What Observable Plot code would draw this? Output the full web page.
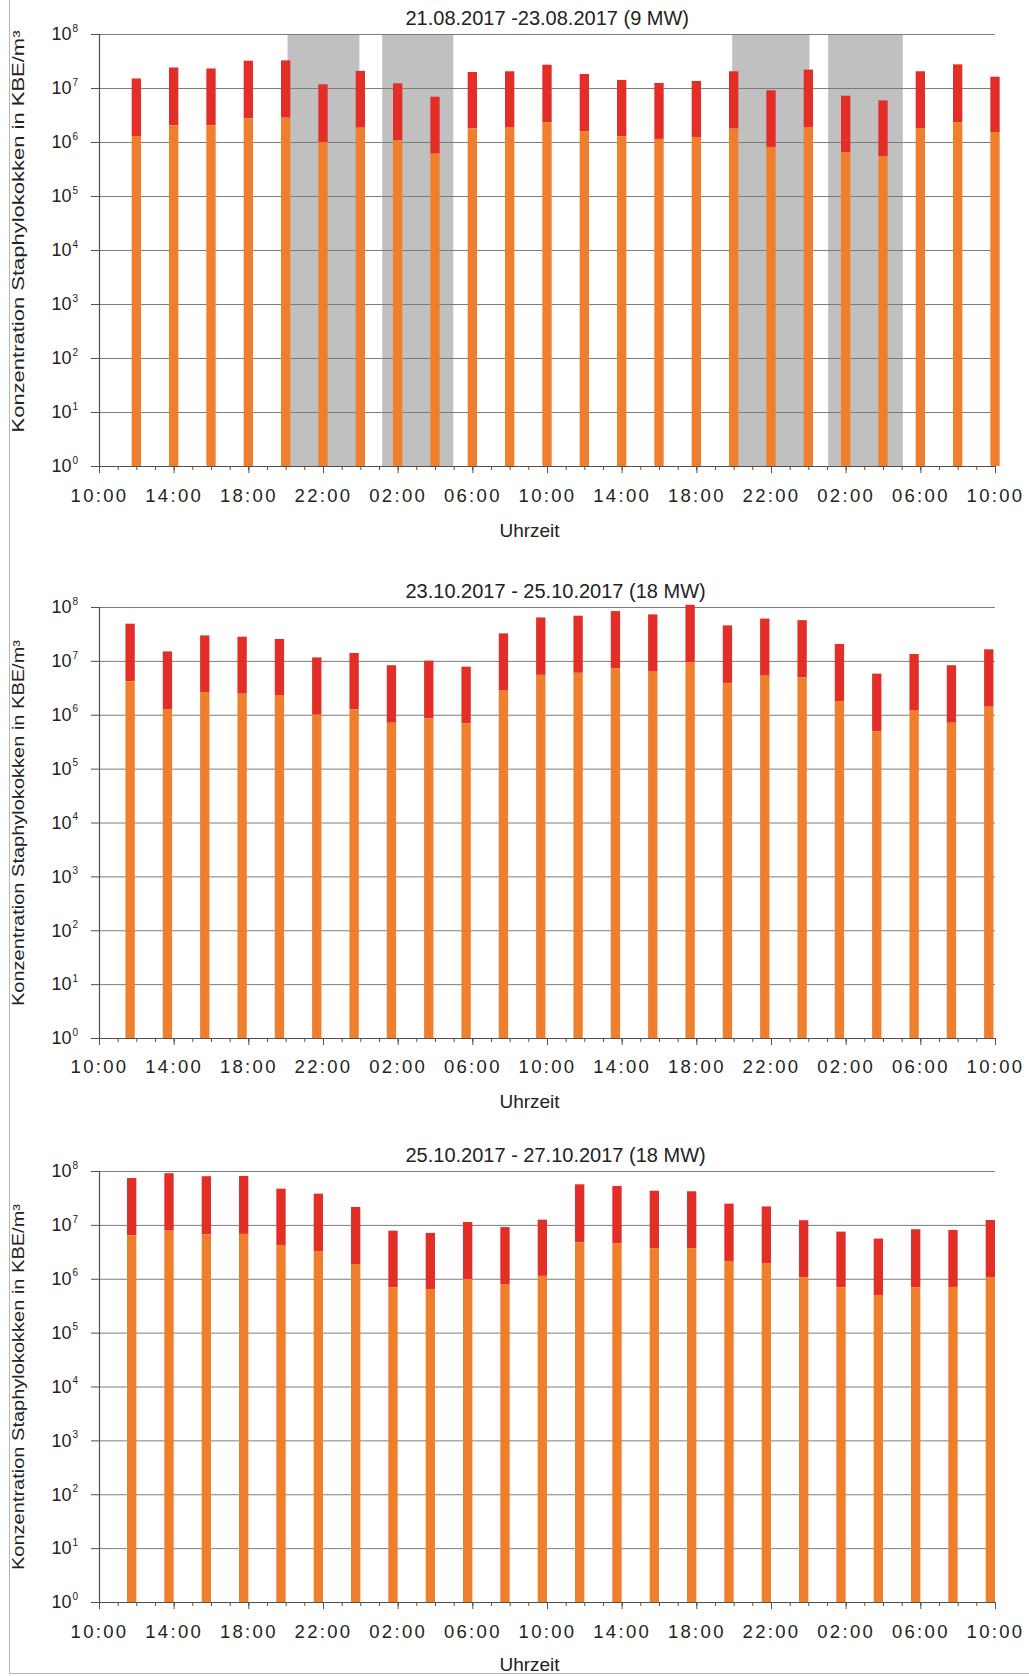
<!DOCTYPE html>
<html>
<head>
<meta charset="utf-8">
<script src="https://cdn.jsdelivr.net/npm/d3@7"></script>
<script src="https://cdn.jsdelivr.net/npm/@observablehq/plot@0.6"></script>
<style>
  html, body { margin: 0; padding: 0; background: #fff; overflow: hidden; }
  #page { position: relative; width: 1029px; height: 1676px; overflow: hidden;
          font-family: "Liberation Sans", Arial, sans-serif; }
  #frame { position: absolute; left: 9px; top: 0; width: 1020px; height: 1674px;
           border-left: 1px solid #b5b5b5; border-bottom: 1px solid #b5b5b5; box-sizing: border-box; }
  .chart { position: absolute; left: 0; }
</style>
</head>
<body>
<div id="page"><div id="frame"></div></div>
<script>
// ---------- data ----------
const titles = [
  "21.08.2017 -23.08.2017 (9 MW)",
  "23.10.2017 - 25.10.2017 (18 MW)",
  "25.10.2017 - 27.10.2017 (18 MW)"
];
const yLabel = "Konzentration Staphylokokken in KBE/m³";
const xLabel = "Uhrzeit";
const xTickLabels = ["10:00","14:00","18:00","22:00","02:00","06:00","10:00","14:00","18:00","22:00","02:00","06:00","10:00"];
const xMajorHours = [0,4,8,12,16,20,24,28,32,36,40,44,48];
const xMinorHours = [0,1,2,3,4,5,6,7,8,9,10,11,12,13,14,15,16,17,18,19,20,21,22,23,24,25,26,27,28,29,30,31,32,33,34,35,36,37,38,39,40,41,42,43,44,45,46,47,48];
const yExponents = [0,1,2,3,4,5,6,7,8];
const yBase = "10";

// sampling times
const times1 = ["12:00","14:00","16:00","18:00","20:00","22:00","00:00","02:00","04:00","06:00","08:00","10:00",
                "12:00","14:00","16:00","18:00","20:00","22:00","00:00","02:00","04:00","06:00","08:00","10:00"];
const times2 = ["11:40","13:40","15:40","17:40","19:40","21:40","23:40","01:40","03:40","05:40","07:40","09:40",
                "11:40","13:40","15:40","17:40","19:40","21:40","23:40","01:40","03:40","05:40","07:40","09:40"];
const times3 = ["11:45","13:45","15:45","17:45","19:45","21:45","23:45","01:45","03:45","05:45","07:45","09:45",
                "11:45","13:45","15:45","17:45","19:45","21:45","23:45","01:45","03:45","05:45","07:45","09:45"];

// lower (orange) part and upper total (red top), KBE/m³
const lower1 = [1.29e6,2.04e6,2.04e6,2.74e6,2.82e6,1.0e6,1.84e6,1.07e6,6.1e5,1.79e6,1.84e6,2.34e6,
                1.58e6,1.27e6,1.14e6,1.24e6,1.77e6,8.1e5,1.9e6,6.4e5,5.4e5,1.81e6,2.34e6,1.53e6];
const upper1 = [1.5e7,2.4e7,2.3e7,3.2e7,3.25e7,1.17e7,2.07e7,1.22e7,6.9e6,1.98e7,2.04e7,2.7e7,
                1.82e7,1.41e7,1.24e7,1.35e7,2.04e7,9.1e6,2.19e7,7.2e6,5.9e6,2.04e7,2.74e7,1.62e7];

const lower2 = [4.17e6,1.28e6,2.57e6,2.46e6,2.26e6,1.0e6,1.26e6,7.1e5,8.6e5,6.9e5,2.8e6,5.5e6,
                6.0e6,7.3e6,6.3e6,9.5e6,3.9e6,5.3e6,4.9e6,1.8e6,4.9e5,1.19e6,7.1e5,1.41e6];
const upper2 = [4.9e7,1.5e7,2.97e7,2.81e7,2.55e7,1.16e7,1.4e7,8.3e6,1.01e7,7.8e6,3.24e7,6.4e7,
                6.9e7,8.4e7,7.3e7,1.1e8,4.56e7,6.1e7,5.7e7,2.06e7,5.8e6,1.34e7,8.3e6,1.64e7];

const lower3 = [6.4e6,7.8e6,6.7e6,6.8e6,4.24e6,3.28e6,1.88e6,6.95e5,6.3e5,9.9e5,8.0e5,1.13e6,
                4.75e6,4.5e6,3.7e6,3.7e6,2.14e6,1.91e6,1.07e6,6.9e5,5.0e5,6.9e5,7.05e5,1.08e6];
const upper3 = [7.4e7,9.1e7,8.0e7,8.1e7,4.7e7,3.8e7,2.15e7,7.8e6,7.1e6,1.13e7,9.1e6,1.25e7,
                5.66e7,5.27e7,4.3e7,4.2e7,2.48e7,2.2e7,1.22e7,7.5e6,5.57e6,8.3e6,8.05e6,1.23e7];

// night periods (grey), hours after 10:00 on day 1 -- chart 1 only
const nightStart1 = [10.1, 15.17, 33.92, 39.06];
const nightEnd1   = [13.95, 18.98, 38.06, 43.06];

// ---------- styling ----------
const RED = "#e32d27";
const ORANGE = "#ef7f2c";
const GREY = "#c0c0c0";
const GRID = "#7c7c7c";
const AXIS = "#505050";
const TEXT = "#222222";
const FONT = "\"Liberation Sans\", Arial, sans-serif";

function toHours(times) {
  let day = 0, prev = -Infinity;
  return times.map(s => {
    const [h, m] = s.split(":").map(Number);
    let v = h + m / 60 - 10 + day * 24;
    while (v <= prev) { day += 1; v += 24; }
    prev = v;
    return v;
  });
}

function makeChart(cfg) {
  const hrs = toHours(cfg.times);
  const data = hrs.map((t, i) => ({t, lo: cfg.lower[i], hi: cfg.upper[i]}));
  const bands = cfg.nightStart ? cfg.nightStart.map((s, i) => ({s, e: cfg.nightEnd[i]})) : [];
  const halfW = 0.25;
  const marginTop = 34, marginBottom = 76;
  const svg = Plot.plot({
    width: 1029,
    height: marginTop + cfg.plotH + marginBottom,
    marginLeft: 99, marginRight: 34, marginTop, marginBottom,
    style: {fontFamily: FONT, color: TEXT, background: "transparent", overflow: "visible"},
    x: {type: "linear", domain: [0, 48], axis: null, label: null},
    y: {type: "log", domain: [1, 1e8], axis: null, label: null},
    marks: [
      Plot.rect(bands, {x1: "s", x2: "e", y1: 1, y2: 1e8, fill: GREY}),
      Plot.ruleY(yExponents.slice(1).map(e => 10 ** e), {stroke: GRID, strokeWidth: 1}),
      Plot.axisY({ticks: yExponents.map(e => 10 ** e), tickSize: 8, tickFormat: () => "", stroke: AXIS, label: null}),
      Plot.axisX({ticks: xMinorHours, tickSize: 4, tickFormat: () => "", stroke: AXIS, label: null}),
      Plot.axisX({ticks: xMajorHours, tickSize: 7, tickFormat: () => "", stroke: AXIS, label: null}),
      Plot.rect(data, {x1: d => d.t - halfW, x2: d => d.t + halfW, y1: "lo", y2: "hi", fill: RED}),
      Plot.rect(data, {x1: d => d.t - halfW, x2: d => d.t + halfW, y1: 1, y2: "lo", fill: ORANGE}),
      Plot.ruleY([1], {stroke: AXIS, strokeWidth: 1.2}),
      Plot.ruleX([0], {stroke: AXIS, strokeWidth: 1.2}),
      // y tick labels 10^n
      Plot.text(yExponents, {frameAnchor: "left", y: d => 10 ** d, text: () => yBase, textAnchor: "end",
                             lineAnchor: "middle", dx: -28, fontSize: 18, fill: TEXT}),
      Plot.text(yExponents, {frameAnchor: "left", y: d => 10 ** d, text: d => String(d), textAnchor: "start",
                             lineAnchor: "middle", dx: -27, dy: -6, fontSize: 10, fill: TEXT}),
      // x tick labels
      Plot.text(xMajorHours, {x: d => d, frameAnchor: "bottom", lineAnchor: "middle", dy: cfg.tickDy,
                              text: (d, i) => xTickLabels[i], fontSize: 18.5, fill: TEXT}),
      // axis titles
      Plot.text([xLabel], {frameAnchor: "bottom", lineAnchor: "middle", dx: -18, dy: cfg.labelDy, fontSize: 19, fill: TEXT}),
      Plot.text([yLabel], {frameAnchor: "left", lineAnchor: "middle", rotate: -90, textAnchor: "start",
                           dx: -81, dy: cfg.yLabelLen / 2 + cfg.yLabelShift, fontSize: 16, fill: TEXT}),
      Plot.text([cfg.title], {frameAnchor: "top-left", lineAnchor: "middle", dx: 306, dy: -16,
                              textAnchor: "start", fontSize: 20, fill: TEXT})
    ]
  });
  const s = d3.select(svg);
  s.selectAll("text").filter(function() { return /^\d\d:\d\d$/.test(this.textContent); })
    .style("letter-spacing", "2.3px");
  s.selectAll("text").filter(function() { return this.textContent === yLabel; })
    .attr("textLength", cfg.yLabelLen).attr("lengthAdjust", "spacingAndGlyphs");
  svg.classList.add("chart");
  svg.style.top = cfg.top + "px";
  return svg;
}

const page = document.getElementById("page");
page.appendChild(makeChart({top: 0, plotH: 432, title: titles[0], times: times1, lower: lower1, upper: upper1,
  nightStart: nightStart1, nightEnd: nightEnd1, tickDy: 30, labelDy: 64, yLabelLen: 402, yLabelShift: -19}));
page.appendChild(makeChart({top: 573.3, plotH: 431, title: titles[1], times: times2, lower: lower2, upper: upper2,
  tickDy: 29, labelDy: 63, yLabelLen: 366, yLabelShift: 0}));
page.appendChild(makeChart({top: 1136.7, plotH: 431, title: titles[2], times: times3, lower: lower3, upper: upper3,
  tickDy: 30, labelDy: 62, yLabelLen: 366, yLabelShift: 0}));
</script>
</body>
</html>
